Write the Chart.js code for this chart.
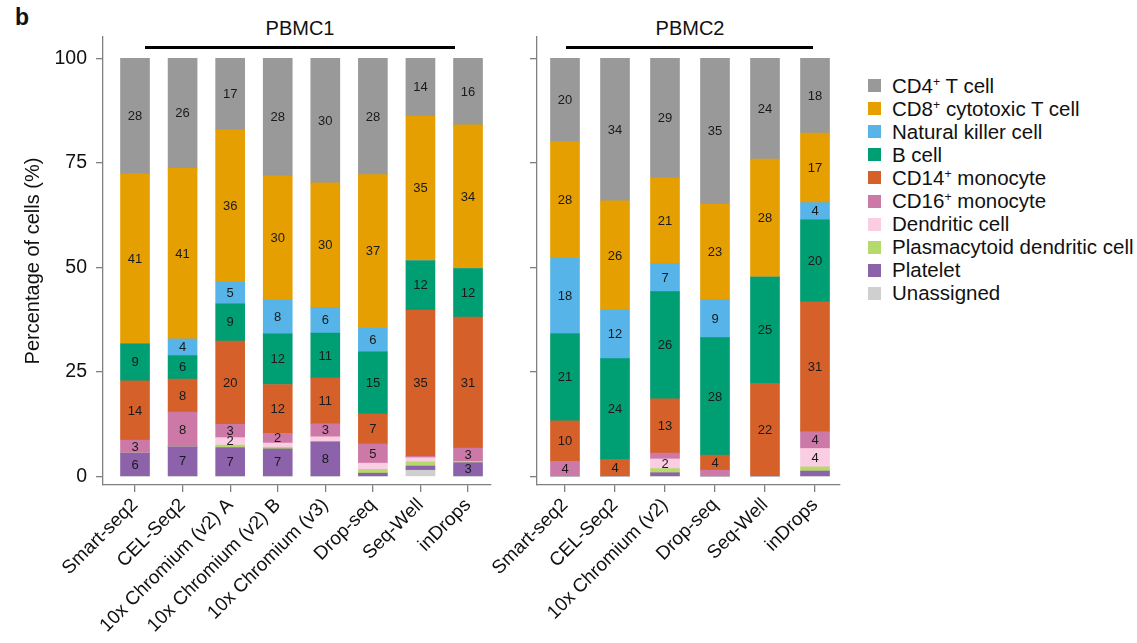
<!DOCTYPE html>
<html>
<head>
<meta charset="utf-8">
<script src="https://cdn.jsdelivr.net/npm/chart.js@4.4.1/dist/chart.umd.min.js"></script>
<style>
  html, body { margin: 0; padding: 0; background: #fff; }
  body { width: 1137px; height: 643px; position: relative; overflow: hidden;
         font-family: "Liberation Sans", Arial, Helvetica, sans-serif; color: #111; }
  canvas { position: absolute; top: 0; }
  #c1 { left: 0; }
  #c2 { left: 440px; }
  .panel-title { position: absolute; top: 17px; font-size: 20px; transform: translateX(-50%); white-space: nowrap; }
  .panel-line { position: absolute; top: 46px; height: 3px; background: #000; }
  #tag { position: absolute; left: 15px; top: 4px; font-size: 23px; font-weight: bold; }
  #legend { position: absolute; left: 868px; top: 74px; }
  .item { display: flex; align-items: center; height: 23.1px; font-size: 20.5px; white-space: nowrap; }
  .sw { width: 13px; height: 13px; margin-right: 11px; flex: none; }
  sup { font-size: 0.6em; vertical-align: 0.6em; line-height: 0; }
</style>
</head>
<body>
<div id="tag">b</div>
<div class="panel-title" style="left:300px">PBMC1</div>
<div class="panel-line" style="left:145px;width:310px"></div>
<div class="panel-title" style="left:690px">PBMC2</div>
<div class="panel-line" style="left:566px;width:247px"></div>
<canvas id="c1" width="500" height="643"></canvas>
<canvas id="c2" width="410" height="643"></canvas>
<div id="legend"></div>
<script>
// ---- categories ----
const cellTypes = ['Unassigned', 'Platelet', 'Plasmacytoid dendritic cell', 'Dendritic cell',
  'CD16⁺ monocyte', 'CD14⁺ monocyte', 'B cell', 'Natural killer cell',
  'CD8⁺ cytotoxic T cell', 'CD4⁺ T cell'];
const cellColors = ['#cfcfcf', '#8c62aa', '#b5d96c', '#fbcde2', '#cc79a7', '#d5602a',
  '#009e73', '#56b4e9', '#e69f00', '#999999'];
const pbmc1Methods = ['Smart-seq2', 'CEL-Seq2', '10x Chromium (v2) A', '10x Chromium (v2) B',
  '10x Chromium (v3)', 'Drop-seq', 'Seq-Well', 'inDrops'];
const pbmc2Methods = ['Smart-seq2', 'CEL-Seq2', '10x Chromium (v2)', 'Drop-seq', 'Seq-Well', 'inDrops'];
const yTickValues = [0, 25, 50, 75, 100];

// ---- PBMC1 values (%) ----
const p1Unassigned = [0, 0, 0, 0, 0, 0, 1.5, 0];
const p1Platelet   = [5.6, 7.1, 6.9, 6.6, 8.3, 0.8, 1.0, 3.3];
const p1PDC        = [0, 0, 0.6, 0.4, 0, 0.9, 1.0, 0.3];
const p1DC         = [0, 0, 1.8, 1.0, 1.2, 1.5, 1.0, 0];
const p1CD16       = [3.1, 8.3, 3.2, 2.3, 3.1, 4.6, 0.3, 3.2];
const p1CD14       = [14.2, 7.9, 19.9, 11.7, 11.0, 7.2, 35.0, 31.3];
const p1B          = [8.8, 5.6, 8.9, 12.1, 10.7, 14.8, 11.8, 11.6];
const p1NK         = [0, 4.0, 5.2, 8.1, 6.1, 5.7, 0, 0];
const p1CD8        = [40.7, 40.8, 36.4, 29.7, 29.8, 36.7, 34.6, 34.4];
const p1CD4        = [27.6, 26.3, 17.1, 28.1, 29.8, 27.8, 13.8, 15.9];

// ---- PBMC2 values (%) ----
const p2Unassigned = [0, 0, 0, 0, 0, 0];
const p2Platelet   = [0, 0, 0.9, 0, 0, 1.3];
const p2PDC        = [0, 0, 1.0, 0, 0, 1.0];
const p2DC         = [0, 0, 2.3, 0, 0, 4.4];
const p2CD16       = [3.6, 0, 1.4, 1.5, 0, 4.0];
const p2CD14       = [9.7, 4.1, 13.0, 3.6, 22.3, 31.1];
const p2B          = [20.9, 24.1, 25.6, 28.1, 25.4, 19.6];
const p2NK         = [18.0, 11.6, 6.7, 9.1, 0, 4.1];
const p2CD8        = [27.9, 26.1, 20.5, 22.8, 28.2, 16.6];
const p2CD4        = [19.9, 34.1, 28.6, 34.9, 24.1, 17.9];

const pbmc1Series = [p1Unassigned, p1Platelet, p1PDC, p1DC, p1CD16, p1CD14, p1B, p1NK, p1CD8, p1CD4];
const pbmc2Series = [p2Unassigned, p2Platelet, p2PDC, p2DC, p2CD16, p2CD14, p2B, p2NK, p2CD8, p2CD4];

const FONT = '"Liberation Sans", Arial, Helvetica, sans-serif';
const AXIS = '#808080';

const valueLabels = {
  id: 'valueLabels',
  afterDatasetsDraw(chart) {
    const ctx = chart.ctx;
    ctx.save();
    ctx.font = '13px ' + FONT;
    ctx.fillStyle = '#1a1a1a';
    ctx.textAlign = 'center';
    ctx.textBaseline = 'middle';
    chart.data.datasets.forEach((ds, di) => {
      const meta = chart.getDatasetMeta(di);
      meta.data.forEach((bar, i) => {
        const v = ds.data[i].y;
        if (v >= 1.75) {
          const p = bar.getProps(['x', 'y', 'base'], true);
          ctx.fillText(String(Math.round(v)), p.x, (p.y + p.base) / 2 + 0.5);
        }
      });
    });
    ctx.restore();
  }
};

function makeChart(id, methods, series, o) {
  const datasets = cellTypes.map((name, k) => ({
    label: name,
    data: series[k].map((v, i) => ({ x: i, y: v })),
    backgroundColor: cellColors[k],
    borderWidth: 0,
    barThickness: 29,
    stack: 'all'
  }));
  return new Chart(document.getElementById(id), {
    type: 'bar',
    data: { datasets },
    options: {
      responsive: false,
      animation: false,
      layout: { padding: o.padding },
      plugins: { legend: { display: false }, tooltip: { enabled: false } },
      scales: {
        x: {
          type: 'linear', min: o.xmin, max: o.xmax, offset: false,
          grid: { offset: false, drawOnChartArea: false, drawTicks: true, tickLength: 7,
                  tickColor: AXIS, color: AXIS, lineWidth: 1.3 },
          border: { display: true, color: AXIS, width: 1.3 },
          afterBuildTicks: s => { s.ticks = methods.map((_, i) => ({ value: i })); },
          ticks: { autoSkip: false, minRotation: 45, maxRotation: 45, padding: 2,
                   color: '#111', font: { size: 19, family: FONT },
                   callback: v => methods[v] },
          afterFit: s => { s.height = o.xHeight; }
        },
        y: {
          type: 'linear', min: -2.03, max: 105.1, stacked: true,
          afterBuildTicks: s => { s.ticks = yTickValues.map(v => ({ value: v })); },
          grid: { drawOnChartArea: false, drawTicks: true, tickLength: 7,
                  tickColor: AXIS, color: AXIS, lineWidth: 1.3 },
          border: { display: true, color: AXIS, width: 1.3 },
          ticks: { padding: 9, color: '#111', font: { size: 19.5, family: FONT },
                   callback: v => o.yLabels ? String(v) : '' },
          title: { display: o.yLabels, text: 'Percentage of cells (%)', color: '#111',
                   font: { size: 20, family: FONT }, padding: { top: 21, bottom: 0 } },
          afterFit: s => { s.width = o.yWidth; }
        }
      }
    },
    plugins: [valueLabels]
  });
}

makeChart('c1', pbmc1Methods, pbmc1Series, {
  padding: { left: 0, top: 37, right: 9, bottom: 0 },
  xmin: -0.673, xmax: 7.483, xHeight: 158, yWidth: 103, yLabels: true
});
makeChart('c2', pbmc2Methods, pbmc2Series, {
  padding: { left: 0, top: 37, right: 10, bottom: 0 },
  xmin: -0.56, xmax: 5.5, xHeight: 158, yWidth: 97, yLabels: false
});

// ---- legend (top-down order) ----
const legend = document.getElementById('legend');
for (let k = cellTypes.length - 1; k >= 0; k--) {
  const it = document.createElement('div');
  it.className = 'item';
  const sw = document.createElement('span');
  sw.className = 'sw';
  sw.style.background = cellColors[k];
  const tx = document.createElement('span');
  tx.innerHTML = cellTypes[k].replace('⁺', '<sup>+</sup>');
  it.appendChild(sw);
  it.appendChild(tx);
  legend.appendChild(it);
}
</script>
</body>
</html>
